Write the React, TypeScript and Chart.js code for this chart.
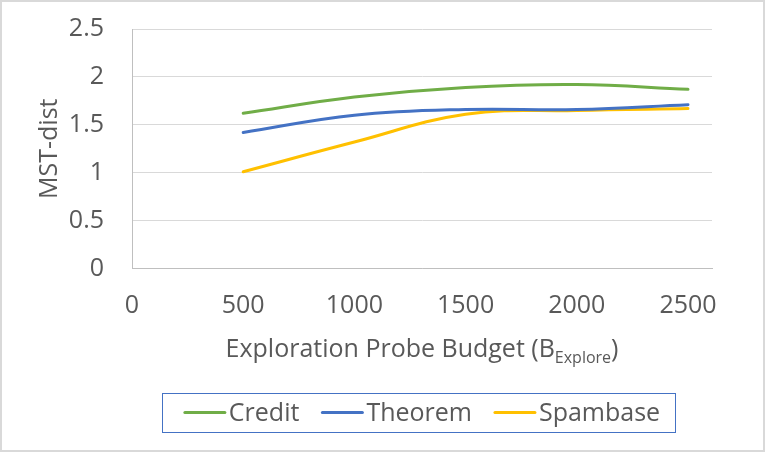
import React, { useEffect, useRef } from "react";
import { Chart, registerables } from "chart.js";
Chart.register(...registerables);

const xValues = [500, 1000, 1500, 2000, 2500];
const credit = [1.62, 1.79, 1.89, 1.92, 1.87];
const theorem = [1.42, 1.6, 1.66, 1.66, 1.71];
const spambase = [1.01, 1.32, 1.61, 1.65, 1.67];
const seriesNames = ["Credit", "Theorem", "Spambase"];
const seriesColors = ["#70AD47", "#4472C4", "#FFC000"];
const xTicks = [0, 500, 1000, 1500, 2000, 2500];
const yTicks = [0, 0.5, 1, 1.5, 2, 2.5];
const yTitle = "MST-dist";
const xTitleMain = "Exploration Probe Budget (B";
const xTitleSub = "Explore";
const xTitleEnd = ")";

const FONT = '"Open Sans", sans-serif';
const TEXT = "#595959";

const decorPlugin = {
  id: "decor",
  afterDraw(chart: any) {
    const ctx = chart.ctx as CanvasRenderingContext2D;
    const area = chart.chartArea;
    const W = chart.width;
    const H = chart.height;
    ctx.save();
    ctx.strokeStyle = "#d9d9d9";
    ctx.lineWidth = 2;
    ctx.strokeRect(1, 1, W - 2, H - 2);

    ctx.fillStyle = TEXT;
    ctx.save();
    ctx.font = `25px ${FONT}`;
    ctx.translate(57, (area.top + area.bottom) / 2);
    ctx.rotate(-Math.PI / 2);
    ctx.textAlign = "center";
    ctx.textBaseline = "alphabetic";
    ctx.fillText(yTitle, 0, 0);
    ctx.restore();

    const cx = (area.left + area.right) / 2;
    ctx.textAlign = "left";
    ctx.textBaseline = "alphabetic";
    ctx.font = `25px ${FONT}`;
    const w1 = ctx.measureText(xTitleMain).width;
    const w3 = ctx.measureText(xTitleEnd).width;
    ctx.font = `16px ${FONT}`;
    const w2 = ctx.measureText(xTitleSub).width;
    let x = cx - (w1 + w2 + w3) / 2;
    const base = 357;
    ctx.font = `25px ${FONT}`;
    ctx.fillText(xTitleMain, x, base);
    x += w1;
    ctx.font = `16px ${FONT}`;
    ctx.fillText(xTitleSub, x, base + 6);
    x += w2;
    ctx.font = `25px ${FONT}`;
    ctx.fillText(xTitleEnd, x, base);

    ctx.font = `25px ${FONT}`;
    const lineLen = 42;
    const gap = 3;
    const itemGap = 22;
    const widths = seriesNames.map((n) => ctx.measureText(n).width);
    const total =
      widths.reduce((a, b) => a + b + lineLen + gap, 0) + itemGap * (seriesNames.length - 1);
    let lx = cx - total / 2;
    const boxLeft = lx - 22;
    const boxRight = lx + total + 15;
    ctx.strokeStyle = "#4472C4";
    ctx.lineWidth = 1;
    ctx.strokeRect(Math.round(boxLeft) + 0.5, 393.5, Math.round(boxRight - boxLeft), 39);
    seriesNames.forEach((n, i) => {
      ctx.strokeStyle = seriesColors[i];
      ctx.lineWidth = 3;
      ctx.lineCap = "round";
      ctx.beginPath();
      ctx.moveTo(lx + 1, 412.5);
      ctx.lineTo(lx + lineLen - 1, 412.5);
      ctx.stroke();
      ctx.fillStyle = TEXT;
      ctx.fillText(n, lx + lineLen + gap, 421);
      lx += lineLen + gap + widths[i] + itemGap;
    });
    ctx.restore();
  },
};

export default function App() {
  const ref = useRef<HTMLCanvasElement | null>(null);
  useEffect(() => {
    document.body.style.margin = "0";
    const canvas = ref.current!;
    const mk = (data: number[]) => xValues.map((x, i) => ({ x, y: data[i] }));
    const seriesData = [credit, theorem, spambase];
    const chart = new Chart(canvas, {
      type: "line",
      data: {
        datasets: seriesNames.map((name, i) => ({
          label: name,
          data: mk(seriesData[i]),
          borderColor: seriesColors[i],
          backgroundColor: seriesColors[i],
          borderWidth: 3,
          pointRadius: 0,
          tension: 0.4,
          borderCapStyle: "round" as const,
          fill: false,
        })),
      },
      options: {
        responsive: false,
        animation: false,
        layout: { padding: { top: 29, right: 53, left: 0, bottom: 0 } },
        plugins: {
          legend: { display: false },
          tooltip: { enabled: false },
        },
        scales: {
          x: {
            type: "linear",
            min: 0,
            max: 2608,
            afterFit: (s: any) => {
              s.height = 452 - 268.5;
              s.paddingLeft = 0;
              s.paddingRight = 0;
            },
            afterBuildTicks: (s: any) => {
              s.ticks = xTicks.map((v) => ({ value: v }));
            },
            ticks: {
              autoSkip: false,
              maxRotation: 0,
              padding: 22,
              color: TEXT,
              font: { family: FONT, size: 25 },
              callback: (v: any) => String(v),
            },
            grid: { display: false, drawTicks: false },
            border: { display: true, color: "#bfbfbf", width: 1 },
          },
          y: {
            min: 0,
            max: 2.5,
            afterFit: (s: any) => {
              s.width = 132;
              s.paddingTop = 0;
              s.paddingBottom = 0;
            },
            afterBuildTicks: (s: any) => {
              s.ticks = yTicks.map((v) => ({ value: v }));
            },
            ticks: {
              autoSkip: false,
              padding: 28,
              color: TEXT,
              font: { family: FONT, size: 25 },
              callback: (v: any) => String(v),
            },
            grid: { color: "#d9d9d9", lineWidth: 1, drawTicks: false },
            border: { display: true, color: "#bfbfbf", width: 1 },
          },
        },
      },
      plugins: [decorPlugin],
    } as any);
    return () => chart.destroy();
  }, []);
  return (
    <div style={{ width: 765, height: 452, background: "#fff" }}>
      <canvas ref={ref} width={765} height={452} style={{ display: "block" }} />
    </div>
  );
}
